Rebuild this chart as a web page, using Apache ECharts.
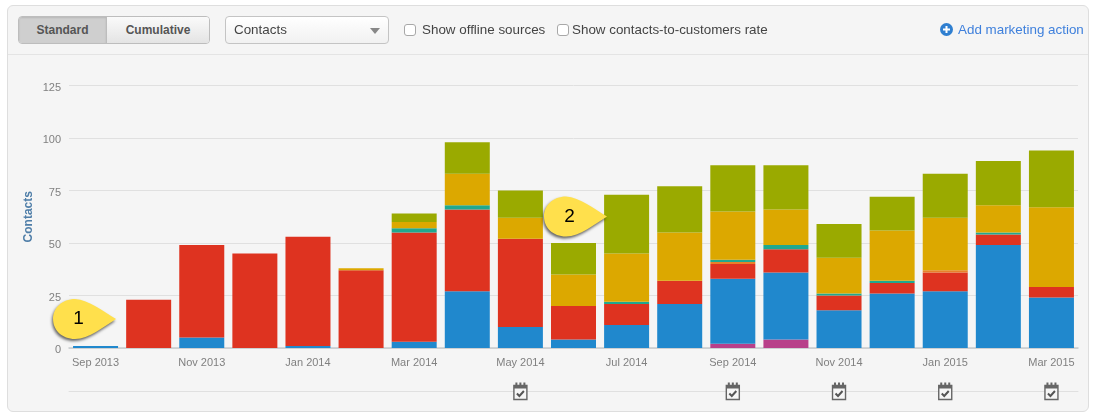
<!DOCTYPE html>
<html>
<head>
<meta charset="utf-8">
<title>Contacts</title>
<script src="https://cdn.jsdelivr.net/npm/echarts@6/dist/echarts.min.js"></script>
<style>
    html, body { margin: 0; padding: 0; background: #fff; }
    body { width: 1099px; height: 419px; position: relative; overflow: hidden; font-family: "Liberation Sans", Arial, sans-serif; }
    .panel { position: absolute; left: 7px; top: 5px; width: 1080px; height: 405px; background: #f5f5f5; border: 1px solid #dedede; border-radius: 6px; }
    .sep { position: absolute; left: 8px; top: 54px; width: 1080px; height: 1px; background: #e4e4e4; }
    #chart { position: absolute; left: 0; top: 0; width: 1099px; height: 419px; }
    .tabs { position: absolute; left: 18px; top: 16px; width: 192px; height: 28px; display: flex; box-sizing: border-box; border: 1px solid #bdbdbd; border-radius: 4px; overflow: hidden; }
    .tabs button { border: 0; margin: 0; padding: 0; font: bold 12px "Liberation Sans", Arial, sans-serif; color: #555; height: 26px; }
    .tabs .on { width: 88px; background: #cfcfcf; border-right: 1px solid #bdbdbd; box-shadow: inset 0 1px 2px rgba(0,0,0,.12); }
    .tabs .off { flex: 1; background: linear-gradient(#fafafa, #e4e4e4); }
    .select { position: absolute; left: 225px; top: 16px; width: 164px; height: 28px; box-sizing: border-box; border: 1px solid #c4c4c4; border-radius: 4px; background: linear-gradient(#fff, #f1f1f1); font-size: 13.4px; line-height: 26px; padding-left: 8px; color: #444; }
    .select i { position: absolute; right: 8px; top: 11px; width: 0; height: 0; border-left: 5px solid transparent; border-right: 5px solid transparent; border-top: 6px solid #888; }
    .check { position: absolute; top: 24px; width: 12px; height: 12px; margin: 0; box-sizing: border-box; appearance: none; background: #fff; border: 1px solid #a8a8a8; border-radius: 3px; }
    .lbl { position: absolute; top: 22px; font-size: 13.4px; line-height: 16px; color: #444; white-space: nowrap; }
    .add { position: absolute; left: 958px; top: 22px; font-size: 13.4px; line-height: 16px; color: #3f80dc; white-space: nowrap; }
    .plus { position: absolute; left: 940px; top: 23px; }
</style>
</head>
<body>
<div class="panel"></div>
<div class="sep"></div>
<div id="chart"></div>
<div class="tabs"><button class="on">Standard</button><button class="off">Cumulative</button></div>
<div class="select">Contacts<i></i></div>
<input class="check" type="checkbox" style="left:404px">
<span class="lbl" style="left:422px">Show offline sources</span>
<input class="check" type="checkbox" style="left:557px">
<span class="lbl" style="left:572px">Show contacts-to-customers rate</span>
<svg class="plus" width="13" height="13" viewBox="0 0 13 13"><circle cx="6.5" cy="6.5" r="6.5" fill="#2f7fd0"/><path d="M6.5 3v7M3 6.5h7" stroke="#fff" stroke-width="2"/></svg>
<span class="add">Add marketing action</span>
<script>
const months = ['Sep 2013', 'Oct 2013', 'Nov 2013', 'Dec 2013', 'Jan 2014', 'Feb 2014', 'Mar 2014', 'Apr 2014', 'May 2014', 'Jun 2014',
    'Jul 2014', 'Aug 2014', 'Sep 2014', 'Oct 2014', 'Nov 2014', 'Dec 2014', 'Jan 2015', 'Feb 2015', 'Mar 2015'];

// stacked bottom to top
const magenta = [0, 0, 0, 0, 0, 0, 0, 0, 0, 0, 0, 0, 2, 4, 0, 0, 0, 0, 0];
const blue = [1, 0, 5, 0, 1, 0, 3, 27, 10, 4, 11, 21, 31, 32, 18, 26, 27, 49, 24];
const red = [0, 23, 44, 45, 52, 37, 52, 39, 42, 16, 10, 11, 7, 11, 7, 5, 9, 5, 5];
const orange = [0, 0, 0, 0, 0, 0, 0, 0, 0, 0, 0, 0, 1, 0, 0, 0, 1, 0, 0];
const teal = [0, 0, 0, 0, 0, 0, 2, 2, 0, 0, 1, 0, 1, 2, 1, 1, 0, 1, 0];
const gold = [0, 0, 0, 0, 0, 1, 3, 15, 10, 15, 23, 23, 23, 17, 17, 24, 25, 13, 38];
const olive = [0, 0, 0, 0, 0, 0, 4, 15, 13, 15, 28, 22, 22, 21, 16, 16, 21, 21, 27];

const actionMonths = ['May 2014', 'Sep 2014', 'Nov 2014', 'Jan 2015', 'Mar 2015'];

const chart = echarts.init(document.getElementById('chart'));

const font = '"Liberation Sans", Arial, sans-serif';
const teardrop = 'path://M63,20 C50,12 36,1 22,0 C9,0 0,9 0,20 C0,31 9,40 22,40 C36,40 50,28 63,20 Z';

const bar = (name, data, color) => ({
    name,
    type: 'bar',
    stack: 'contacts',
    data,
    barWidth: 45,
    itemStyle: { color },
    animation: false,
});

const callout = (label, coord, offset) => ({
    coord,
    symbol: teardrop,
    symbolSize: [63, 40],
    symbolOffset: offset,
    itemStyle: { color: '#ffe04c', shadowColor: 'rgba(0,0,0,0.6)', shadowBlur: 3, shadowOffsetX: -1, shadowOffsetY: 2 },
    label: { show: true, position: 'inside', formatter: label, color: '#000', fontSize: 19, fontFamily: font, offset: [-6, 0] },
});

const oliveSeries = bar('Olive', olive, '#9aaa00');
oliveSeries.markPoint = {
    silent: true,
    animation: false,
    z: 10,
    data: [
        callout('1', ['Sep 2013', 13.8], [-11, 0]),
        callout('2', ['Jun 2014', 62.6], [2, 0]),
    ],
};

// marketing action icon, drawn on the lower strip
const renderAction = (params, api) => {
    const [x, y] = api.coord([api.value(0), 0]);
    const stroke = '#666';
    const rings = [-4, 0, 4].map((dx) => ({
        type: 'rect',
        shape: { x: x + dx - 1, y: y - 8.5, width: 2, height: 4 },
        style: { fill: stroke },
    }));
    return {
        type: 'group',
        children: [
            { type: 'rect', shape: { x: x - 6.5, y: y - 5.5, width: 13, height: 14 }, style: { fill: '#f6f6f6', stroke, lineWidth: 1.4 } },
            { type: 'rect', shape: { x: x - 6.5, y: y - 5.5, width: 13, height: 3 }, style: { fill: stroke } },
            ...rings,
            { type: 'polyline', shape: { points: [[x - 3.5, y + 2.5], [x - 1, y + 5], [x + 3.5, y]] }, style: { fill: 'none', stroke: '#555', lineWidth: 2 } },
        ],
    };
};

chart.setOption({
    backgroundColor: 'transparent',
    animation: false,
    textStyle: { fontFamily: font },
    grid: [
        { left: 69, right: 21, top: 85.5, height: 262.5 },
        { left: 69, right: 21, top: 380, height: 11 },
    ],
    xAxis: [
        {
            type: 'category',
            gridIndex: 0,
            data: months,
            axisLine: { lineStyle: { color: '#c6cacd', width: 1.5 } },
            axisTick: { interval: 1, alignWithLabel: true, length: 5, lineStyle: { color: '#c3d3e3' } },
            axisLabel: { interval: 1, color: '#808080', fontSize: 11, margin: 9, fontFamily: font, hideOverlap: false },
        },
        {
            type: 'category',
            gridIndex: 1,
            data: months,
            axisLine: { lineStyle: { color: '#e0e0e0' } },
            axisTick: { show: false },
            axisLabel: { show: false },
        },
    ],
    yAxis: [
        {
            type: 'value',
            gridIndex: 0,
            min: 0,
            max: 125,
            interval: 25,
            name: 'Contacts',
            nameLocation: 'middle',
            nameGap: 34,
            nameMoveOverlap: false,
            nameRotate: 90,
            nameTextStyle: { color: '#4f7ea8', fontSize: 12, fontWeight: 'bold', fontFamily: font },
            axisLine: { show: false },
            axisTick: { show: false },
            axisLabel: { color: '#808080', fontSize: 11, margin: 8, verticalAlign: 'top', lineHeight: 4, fontFamily: font },
            splitLine: { lineStyle: { color: '#e0e0e0' } },
        },
        { type: 'value', gridIndex: 1, min: 0, max: 1, show: false },
    ],
    series: [
        bar('Magenta', magenta, '#b8408a'),
        bar('Blue', blue, '#2088cd'),
        bar('Red', red, '#de3320'),
        bar('Orange', orange, '#e8802a'),
        bar('Teal', teal, '#20a88f'),
        bar('Gold', gold, '#dca800'),
        oliveSeries,
        {
            type: 'custom',
            name: 'Marketing actions',
            xAxisIndex: 1,
            yAxisIndex: 1,
            clip: false,
            silent: true,
            renderItem: renderAction,
            encode: { x: 0, y: 1 },
            data: actionMonths.map((m) => [m, 0]),
        },
    ],
});
</script>
</body>
</html>
